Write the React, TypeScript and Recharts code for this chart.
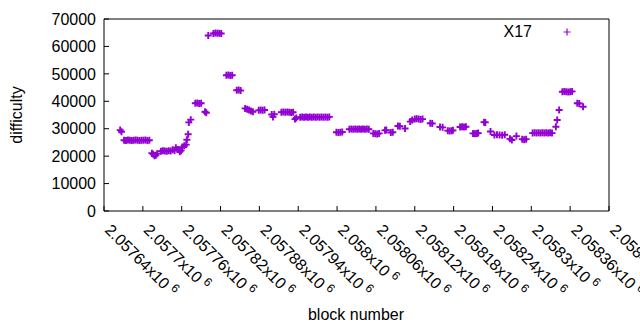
import { ScatterChart, Scatter, XAxis, YAxis, Legend, Label } from "recharts";

const PURPLE = "#9400d3";

const xTicks = [
  2057640, 2057700, 2057760, 2057820, 2057880, 2057940, 2058000, 2058060,
  2058120, 2058180, 2058240, 2058300, 2058360, 2058420,
];
const xTickLabels = [
  "2.05764", "2.0577", "2.05776", "2.05782", "2.05788", "2.05794", "2.058",
  "2.05806", "2.05812", "2.05818", "2.05824", "2.0583", "2.05836", "2.05842",
];
const yTicks = [0, 10000, 20000, 30000, 40000, 50000, 60000, 70000];

// [block, difficulty]
const firstClimb: [number, number][] = [
  [2057665, 29500], [2057667, 28900],
  [2057671, 25800], [2057674, 25700], [2057677, 25900], [2057680, 25800], [2057683, 25700],
  [2057686, 25800], [2057689, 25900], [2057692, 25800], [2057695, 25700], [2057698, 25800],
  [2057701, 25800], [2057704, 25900], [2057707, 25700], [2057710, 25800],
  [2057714, 21100], [2057716, 20700], [2057718, 20100], [2057720, 20300], [2057722, 20900],
  [2057728, 21800], [2057731, 22000], [2057734, 21900], [2057737, 21800], [2057740, 22000], [2057743, 21900],
  [2057746, 22300], [2057749, 22100], [2057751, 23100], [2057754, 22400], [2057757, 21600], [2057759, 22000],
  [2057761, 23300], [2057764, 23800], [2057767, 24200], [2057768, 26000], [2057770, 28000],
  [2057771, 32300], [2057774, 33300],
  [2057781, 39300], [2057784, 39400], [2057787, 39200], [2057790, 39300],
  [2057796, 36200], [2057798, 35800],
  [2057801, 64000], [2057809, 64700], [2057812, 64900], [2057815, 64800], [2057818, 64800], [2057821, 64700],
  [2057829, 49500], [2057832, 49600], [2057835, 49400], [2057838, 49500],
  [2057845, 44000], [2057848, 44100], [2057851, 43900],
];

const plateau: [number, number][] = [
  [2057858, 37400], [2057861, 37100], [2057864, 36800], [2057867, 36500], [2057870, 36200],
  [2057879, 36700], [2057882, 36800], [2057885, 36700], [2057888, 36800],
  [2057899, 35200], [2057901, 34300], [2057903, 35300],
  [2057914, 36000], [2057917, 36100], [2057920, 36000], [2057923, 36100], [2057926, 36000],
  [2057929, 35900], [2057932, 36000],
  [2057935, 33500], [2057937, 33900],
  [2057943, 34200], [2057946, 34300], [2057949, 34200], [2057952, 34300], [2057955, 34200],
  [2057958, 34300], [2057961, 34200], [2057964, 34300], [2057967, 34200], [2057970, 34300],
  [2057973, 34200], [2057976, 34300], [2057979, 34200], [2057982, 34300], [2057985, 34200], [2057988, 34300],
  [2057999, 28700], [2058002, 28600], [2058005, 28700], [2058008, 28800],
  [2058019, 29800], [2058022, 29900], [2058025, 29800], [2058028, 29900], [2058031, 29800],
  [2058034, 29900], [2058037, 29800], [2058040, 29900], [2058043, 29800], [2058046, 29900], [2058049, 29800],
  [2058056, 28300], [2058059, 28200], [2058062, 28100], [2058065, 28300],
];

const laterSwings: [number, number][] = [
  [2058074, 29400], [2058076, 29500],
  [2058083, 28600], [2058086, 28700],
  [2058094, 31000], [2058097, 30900],
  [2058105, 30100],
  [2058113, 32600], [2058116, 33200],
  [2058120, 33500], [2058123, 33600], [2058126, 33500], [2058129, 33400], [2058132, 33500],
  [2058144, 32000], [2058147, 31900],
  [2058159, 30600], [2058163, 30500],
  [2058171, 29300], [2058174, 29200], [2058177, 29300], [2058179, 29400],
  [2058190, 30600], [2058193, 30700], [2058196, 30600], [2058199, 30700],
  [2058210, 28300], [2058213, 28200], [2058216, 28300], [2058218, 28400],
  [2058227, 32400], [2058229, 32300],
  [2058237, 29000],
  [2058243, 27700], [2058247, 27800], [2058251, 27700], [2058255, 27600], [2058259, 27800],
  [2058267, 26300], [2058270, 25900],
  [2058277, 27300],
  [2058286, 26200], [2058289, 26000], [2058292, 26200],
  [2058302, 28400], [2058305, 28500], [2058308, 28400], [2058311, 28500], [2058314, 28400],
  [2058317, 28500], [2058320, 28400], [2058323, 28500], [2058326, 28400], [2058329, 28500], [2058332, 28400],
  [2058338, 30700], [2058340, 33200], [2058343, 36800],
  [2058348, 43500], [2058351, 43600], [2058354, 43500], [2058357, 43400], [2058360, 43500], [2058363, 43600],
  [2058371, 39300], [2058374, 39200],
  [2058380, 38000],
];

const points = [...firstClimb, ...plateau, ...laterSwings].map(([block, difficulty]) => ({
  block,
  difficulty,
}));

const Plus = (props: any) => {
  const { cx, cy } = props;
  if (cx == null || cy == null) return null;
  return (
    <path
      d={`M${cx - 3.5},${cy}h7M${cx},${cy - 3.5}v7`}
      stroke={PURPLE}
      strokeWidth={1.9}
      fill="none"
    />
  );
};

const XTick = (props: any) => {
  const { x, payload, index } = props;
  const label = xTickLabels[index] ?? String(payload.value);
  return (
    <text transform={`translate(${x},231) rotate(45)`} fontSize={16} fill="#000">
      {label}x10
      <tspan fontSize={12} dx={4} dy={-6}>6</tspan>
    </text>
  );
};

const Empty = () => <g />;

const LegendKey = () => (
  <div style={{ display: "flex", alignItems: "center", fontSize: 16 }}>
    <span style={{ width: 52, textAlign: "right" }}>X17</span>
    <svg width={40} height={14}>
      <path d="M31.5,7h7M35,3.5v7" stroke={PURPLE} strokeWidth={1.2} fill="none" />
    </svg>
  </div>
);

export default function App() {
  return (
    <div
      style={{
        position: "absolute",
        left: 0,
        top: 0,
        width: 640,
        height: 330,
        background: "#fff",
        fontFamily: "'Liberation Sans', Arial, sans-serif",
      }}
    >
      <ScatterChart
        width={640}
        height={330}
        margin={{ top: 9, right: 21, bottom: 89, left: 54 }}
      >
        <XAxis
          xAxisId="b"
          type="number"
          dataKey="block"
          domain={[2057640, 2058420]}
          ticks={xTicks}
          interval={0}
          height={30}
          tickSize={-5}
          tickMargin={0}
          tick={<XTick />}
          axisLine={{ stroke: "#000" }}
          tickLine={{ stroke: "#000" }}
        >
          <Label
            content={() => (
              <text x={356} y={320} textAnchor="middle" fontSize={16} fill="#000">
                block number
              </text>
            )}
          />
        </XAxis>
        <XAxis
          xAxisId="t"
          orientation="top"
          type="number"
          dataKey="block"
          domain={[2057640, 2058420]}
          ticks={xTicks}
          interval={0}
          height={10}
          tickSize={-5}
          tick={<Empty />}
          axisLine={{ stroke: "#000" }}
          tickLine={{ stroke: "#000" }}
        />
        <YAxis
          yAxisId="l"
          type="number"
          dataKey="difficulty"
          domain={[0, 70000]}
          ticks={yTicks}
          interval={0}
          width={50}
          tickSize={-5}
          tickMargin={13}
          tick={{ fill: "#000", fontSize: 16 }}
          axisLine={{ stroke: "#000" }}
          tickLine={{ stroke: "#000" }}
        >
          <Label
            content={() => (
              <text
                transform="translate(22,115) rotate(-90)"
                textAnchor="middle"
                fontSize={16}
                fill="#000"
              >
                difficulty
              </text>
            )}
          />
        </YAxis>
        <YAxis
          yAxisId="r"
          orientation="right"
          type="number"
          dataKey="difficulty"
          domain={[0, 70000]}
          ticks={yTicks}
          interval={0}
          width={10}
          tickSize={-5}
          tick={<Empty />}
          axisLine={{ stroke: "#000" }}
          tickLine={{ stroke: "#000" }}
        />
        <Legend
          layout="vertical"
          align="center"
          verticalAlign="middle"
          content={<LegendKey />}
          wrapperStyle={{ left: 480, top: 23, width: 100, height: 18 }}
        />
        <Scatter
          name="X17"
          xAxisId="b"
          yAxisId="l"
          data={points}
          shape={<Plus />}
          isAnimationActive={false}
        />
      </ScatterChart>
    </div>
  );
}
